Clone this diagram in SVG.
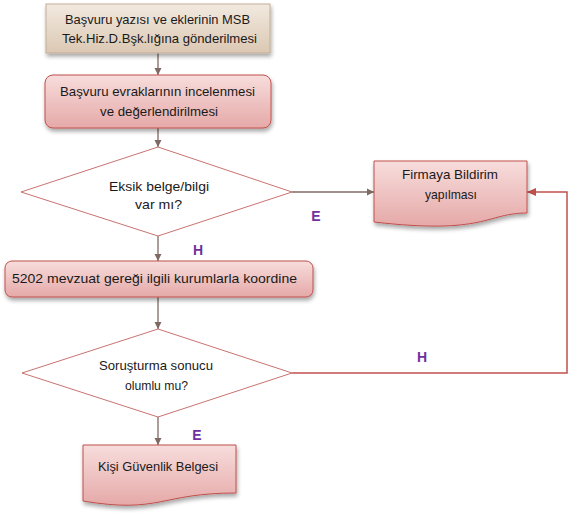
<svg xmlns="http://www.w3.org/2000/svg" width="569" height="519" viewBox="0 0 569 519">
<defs>
<linearGradient id="gBeige" x1="0" y1="0" x2="0" y2="1">
<stop offset="0" stop-color="#f2e9df"/><stop offset="1" stop-color="#dbc8b3"/>
</linearGradient>
<linearGradient id="gPink" x1="0" y1="0" x2="0" y2="1">
<stop offset="0" stop-color="#f7dddc"/><stop offset="1" stop-color="#e5a9a8"/>
</linearGradient>
<filter id="sh" x="-10%" y="-10%" width="120%" height="140%">
<feGaussianBlur in="SourceAlpha" stdDeviation="2"/>
<feOffset dx="1" dy="3" result="b"/>
<feComponentTransfer><feFuncA type="linear" slope="0.35"/></feComponentTransfer>
<feMerge><feMergeNode/><feMergeNode in="SourceGraphic"/></feMerge>
</filter>
<marker id="aG" markerUnits="userSpaceOnUse" markerWidth="8" markerHeight="8" refX="7" refY="4" orient="auto">
<path d="M0,0.5 L7,4 L0,7.5 Z" fill="#7f6a63"/>
</marker>
<marker id="aR" markerUnits="userSpaceOnUse" markerWidth="10" markerHeight="10" refX="9" refY="4.5" orient="auto">
<path d="M0,0.5 L9,4.5 L0,8.5 Z" fill="#c0504d"/>
</marker>
</defs>
<style>
text{font-family:"Liberation Sans",Arial,sans-serif;font-size:13px;fill:#1a1a1a;text-anchor:middle}
.lbl{font-size:14px;font-weight:bold;fill:#7030a0}
.beige{fill:url(#gBeige);stroke:#c2ad96;stroke-width:1}
.pink{fill:url(#gPink);stroke:#c0504d;stroke-width:1}
.dia{fill:#ffffff;stroke:#c87370;stroke-width:1}
.cg{fill:none;stroke:#7f6a63;stroke-width:1.3;marker-end:url(#aG)}
.cr{fill:none;stroke:#c0504d;stroke-width:1.5;marker-end:url(#aR)}
</style>
<g id="connectors">
<line class="cg" x1="158" y1="53" x2="158" y2="75"/>
<line class="cg" x1="158" y1="128" x2="158" y2="147"/>
<line class="cg" x1="158" y1="236" x2="158" y2="261"/>
<line class="cg" x1="158" y1="297" x2="158" y2="329"/>
<line class="cg" x1="158" y1="417" x2="158" y2="445"/>
<line class="cg" x1="292" y1="192" x2="374" y2="192"/>
<polyline class="cr" points="292,373 567,373 567,192 527,192"/>
</g>
<g id="n1">
<rect class="beige" x="46" y="4" width="224" height="49" filter="url(#sh)"/>
<text x="157.5" y="24" textLength="185" lengthAdjust="spacingAndGlyphs">Başvuru yazısı ve eklerinin MSB</text>
<text x="159.5" y="43" textLength="195" lengthAdjust="spacingAndGlyphs">Tek.Hiz.D.Bşk.lığına gönderilmesi</text>
</g>
<g id="n2">
<rect class="pink" x="45" y="75" width="226" height="53" rx="8" filter="url(#sh)"/>
<text x="157.5" y="96" textLength="195" lengthAdjust="spacingAndGlyphs">Başvuru evraklarının incelenmesi</text>
<text x="159" y="116" textLength="118" lengthAdjust="spacingAndGlyphs">ve değerlendirilmesi</text>
</g>
<g id="n3">
<polygon class="dia" points="158,147 292,192 158,236 21,192"/>
<text x="159" y="191" textLength="100" lengthAdjust="spacingAndGlyphs">Eksik belge/bilgi</text>
<text x="158.5" y="209" textLength="47" lengthAdjust="spacingAndGlyphs">var mı?</text>
</g>
<g id="n4">
<path class="pink" d="M374,161 H527 V213 C486,213 486,235 374,222 Z" filter="url(#sh)"/>
<text x="450" y="179" textLength="96" lengthAdjust="spacingAndGlyphs">Firmaya Bildirim</text>
<text x="451" y="199" textLength="52" lengthAdjust="spacingAndGlyphs">yapılması</text>
</g>
<g id="n5">
<rect class="pink" x="5" y="261" width="308" height="36" rx="7" filter="url(#sh)"/>
<text x="154.5" y="283" textLength="285" lengthAdjust="spacingAndGlyphs">5202 mevzuat gereği ilgili kurumlarla koordine</text>
</g>
<g id="n6">
<polygon class="dia" points="158,329 292,373 158,417 22,373"/>
<text x="156" y="370" textLength="114" lengthAdjust="spacingAndGlyphs">Soruşturma sonucu</text>
<text x="156.5" y="390" textLength="63" lengthAdjust="spacingAndGlyphs">olumlu mu?</text>
</g>
<g id="n7">
<path class="pink" d="M83,445 H236 V493 C160,493 160,514 83,501 Z" filter="url(#sh)"/>
<text x="158" y="471" textLength="120" lengthAdjust="spacingAndGlyphs">Kişi Güvenlik Belgesi</text>
</g>
<g id="labels">
<text class="lbl" x="316" y="221">E</text>
<text class="lbl" x="198" y="255">H</text>
<text class="lbl" x="422" y="362">H</text>
<text class="lbl" x="197" y="440">E</text>
</g>
</svg>
